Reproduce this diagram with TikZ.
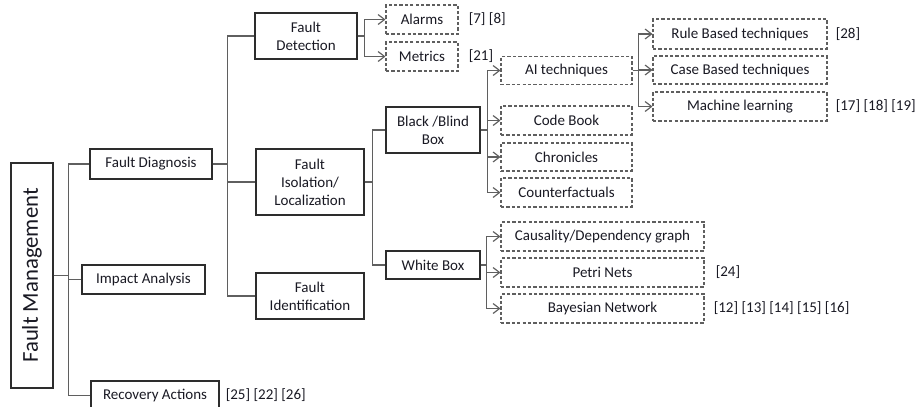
\documentclass[tikz,border=0pt]{standalone}
\usepackage{fontspec}
\setmainfont{Carlito}
\usetikzlibrary{positioning,arrows.meta}

\definecolor{linegray}{RGB}{95,95,95}
\definecolor{boxgray}{RGB}{45,45,45}
\definecolor{txtgray}{RGB}{25,25,35}

\tikzset{
	box/.style 2 args={draw=boxgray, line width=0.9pt, inner sep=0pt, align=center,
		text=txtgray, minimum width=#1*0.03cm, minimum height=#2*0.03cm},
	dbox/.style 2 args={box={#1}{#2}, draw=linegray, dash pattern=on 2.8pt off 1.8pt},
	refs/.style={inner sep=0pt, text=txtgray, anchor=west},
	link/.style={draw=linegray, line width=1pt},
	arr/.style={link, -{Straight Barb[length=5.5pt,width=8.5pt]}}
}

\begin{document}
\begin{tikzpicture}[x=0.03cm, y=-0.03cm, font=\fontsize{12.8}{15.4}\selectfont]
	\useasboundingbox (0,0) rectangle (917,406);

	% root and first level
	\node[box={42}{225}] (fm) at (32,275.5) {\rotatebox{90}{\fontsize{19.4}{22}\selectfont Fault Management}};
	\node[box={122}{30}] (diag) at (151,164) {Fault Diagnosis};
	\node[box={123}{29}] (impact) at (143.5,279.5) {Impact Analysis};
	\node[box={128}{29}] (recov) at (155,395.5) {Recovery Actions};
	\node[refs, right=0.18cm of recov] (recovref) {[25] [22] [26]};

	% fault diagnosis branches
	\node[box={102}{46}] (detect) at (306,36) {Fault\\Detection};
	\node[box={108}{66}] (iso) at (310,182) {Fault\\Isolation/\\Localization};
	\node[box={108}{46}] (ident) at (310,296) {Fault\\Identification};

	% detection
	\node[dbox={72}{29}] (alarms) at (422,19.5) {Alarms};
	\node[dbox={72}{29}] (metrics) at (422,56.5) {Metrics};
	\node[refs, right=0.3cm of alarms] (alarmsref) {[7] [8]};
	\node[refs, right=0.3cm of metrics] (metricsref) {[21]};

	% isolation
	\node[box={94}{46}] (black) at (433,130) {Black /Blind\\Box};
	\node[box={94}{28}] (white) at (433,265) {White Box};

	\node[dbox={131}{28}] (ai) at (566.5,70.5) {AI techniques};
	\node[dbox={131}{29}] (codebook) at (566.5,120.5) {Code Book};
	\node[dbox={131}{28}] (chron) at (566.5,157) {Chronicles};
	\node[dbox={131}{29}] (counter) at (566.5,192.5) {Counterfactuals};

	\node[dbox={174}{30}] (rule) at (740,34) {Rule Based techniques};
	\node[dbox={174}{28}] (case) at (740,70) {Case Based techniques};
	\node[dbox={174}{29}] (ml) at (740,106.5) {Machine learning};
	\node[refs, right=0.24cm of rule] (ruleref) {[28]};
	\node[refs, right=0.24cm of ml] (mlref) {[17] [18] [19]};

	\node[dbox={203}{29}] (caus) at (602.5,236.5) {Causality/Dependency graph};
	\node[dbox={203}{29}] (petri) at (602.5,272.5) {Petri Nets};
	\node[dbox={203}{29}] (bayes) at (602.5,308.5) {Bayesian Network};
	\node[refs, right=0.33cm of petri] (petriref) {[24]};
	\node[refs, right=0.27cm of bayes] (bayesref) {[12] [13] [14] [15] [16]};

	% connectors
	\foreach \n in {diag,impact,recov}
		\draw[link] (fm.east) -- ++(15,0) |- (\n.west);
	\foreach \n in {detect,iso,ident}
		\draw[link] (diag.east) -- ++(15,0) |- (\n.west);
	\foreach \n in {alarms,metrics}
		\draw[arr] (detect.east) -- ++(7,0) |- (\n.west);
	\foreach \n in {black,white}
		\draw[link] (iso.east) -- ++(8,0) |- (\n.west);
	\foreach \n in {ai,codebook,chron,counter}
		\draw[arr] (black.east) -- ++(7,0) |- (\n.west);
	\foreach \n in {rule,case,ml}
		\draw[arr] (ai.east) -- ++(6,0) |- (\n.west);
	\foreach \n in {caus,petri,bayes}
		\draw[arr] (white.east) -- ++(6,0) |- (\n.west);
\end{tikzpicture}
\end{document}
